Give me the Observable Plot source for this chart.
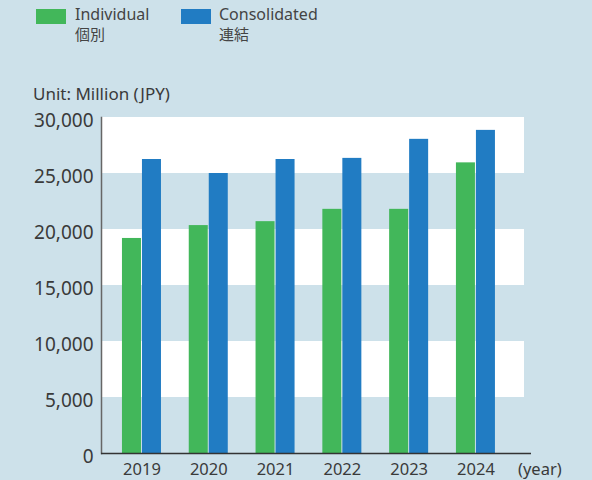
<!DOCTYPE html>
<html>
<head>
<meta charset="utf-8">
<script src="https://cdn.jsdelivr.net/npm/d3@7"></script>
<script src="https://cdn.jsdelivr.net/npm/@observablehq/plot@0.6"></script>
<style>
  html, body { margin: 0; padding: 0; background: #cde1ea; }
  #wrap { position: relative; width: 592px; height: 480px; background: #cde1ea; overflow: hidden;
          font-family: "Noto Sans", "Noto Sans CJK JP", sans-serif; color: #3a3a3a; }
  #chart { position: absolute; left: 0; top: 0; }
  .sw { position: absolute; width: 30px; height: 15px; }
  .lg { position: absolute; font-size: 16px; line-height: 19px; color: #444; }
  .lg span { display: block; font-size: 15px; font-family: "Noto Sans CJK JP", sans-serif; }
  #unit { position: absolute; left: 33px; top: 82px; font-size: 17px; color: #3a3a3a; }
  #year { position: absolute; left: 518px; top: 457px; font-size: 16.5px; color: #3a3a3a; }
</style>
</head>
<body>
<div id="wrap">
  <div id="chart"></div>
  <div class="sw" style="left:36px; top:9px; background:#42b75a;"></div>
  <div class="lg" style="left:75px; top:5px;">Individual<span>個別</span></div>
  <div class="sw" style="left:181px; top:9px; background:#217cc3;"></div>
  <div class="lg" style="left:219px; top:5px;">Consolidated<span>連結</span></div>
  <div id="unit">Unit: Million (JPY)</div>
  <div id="year">(year)</div>
</div>
<script>
const years = ["2019", "2020", "2021", "2022", "2023", "2024"];
const individual = [19200, 20350, 20700, 21800, 21800, 25950];
const consolidated = [26250, 25000, 26250, 26350, 28050, 28850];
const yTicks = [0, 5000, 10000, 15000, 20000, 25000, 30000];
const whiteBands = [[5000, 10000], [15000, 20000], [25000, 30000]];

const indData = years.map((y, i) => ({year: y, value: individual[i]}));
const conData = years.map((y, i) => ({year: y, value: consolidated[i]}));
const bandData = whiteBands.map(([a, b]) => ({y1: a, y2: b}));

const chart = Plot.plot({
  width: 592,
  height: 480,
  marginTop: 117,
  marginBottom: 27,
  marginLeft: 101,
  marginRight: 68,
  style: {background: "transparent", fontFamily: "'Noto Sans', sans-serif", color: "#3a3a3a"},
  x: {domain: years, type: "band", range: [108.6, 508.3], paddingInner: 0.416, paddingOuter: 0.2, round: false},
  y: {domain: [0, 30000]},
  marks: [
    Plot.rect(bandData, {y1: "y1", y2: "y2", fill: "white"}),
    Plot.barY(indData, {x: "year", y: "value", fill: "#42b75a", insetRight: 20}),
    Plot.barY(conData, {x: "year", y: "value", fill: "#217cc3", insetLeft: 20}),
    Plot.axisX({tickSize: 0, tickPadding: 10, fontSize: 16.5, label: null}),
    Plot.axisY({ticks: yTicks, tickSize: 0, tickPadding: 8, fontSize: 19, dy: 3,
                tickFormat: d3.format(","), label: null}),
    Plot.frame({anchor: "left", stroke: "#666", strokeWidth: 1.5}),
    Plot.ruleY([0], {stroke: "#333", strokeWidth: 1.5, insetRight: -7})
  ]
});
document.getElementById("chart").appendChild(chart);
</script>
</body>
</html>
